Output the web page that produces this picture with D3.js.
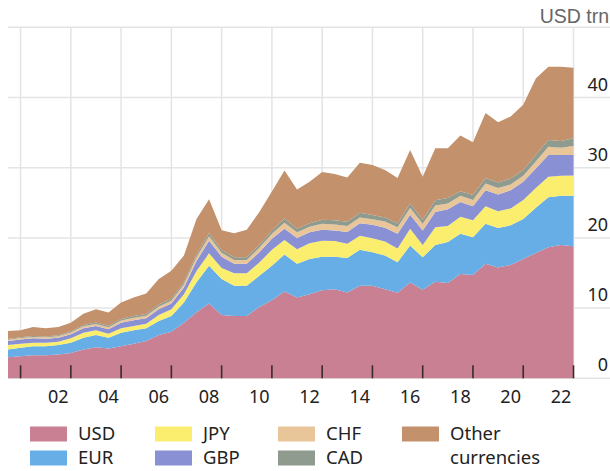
<!DOCTYPE html>
<html><head><meta charset="utf-8">
<script src="https://cdn.jsdelivr.net/npm/d3@7"></script>
<style>body{margin:0;background:#fff}svg{display:block}</style>
</head><body>
<svg id="c" width="610" height="471"></svg>
<script>
const periods = ["2000-06","2000-12","2001-06","2001-12","2002-06","2002-12","2003-06","2003-12","2004-06","2004-12","2005-06","2005-12","2006-06","2006-12","2007-06","2007-12","2008-06","2008-12","2009-06","2009-12","2010-06","2010-12","2011-06","2011-12","2012-06","2012-12","2013-06","2013-12","2014-06","2014-12","2015-06","2015-12","2016-06","2016-12","2017-06","2017-12","2018-06","2018-12","2019-06","2019-12","2020-06","2020-12","2021-06","2021-12","2022-06","2022-12"];
const USD = [3.01,3.15,3.30,3.30,3.40,3.62,4.11,4.44,4.25,4.58,4.91,5.30,6.16,6.63,7.92,9.4,10.65,9.03,8.88,8.88,10.17,11.13,12.37,11.5,11.99,12.56,12.7,12.23,13.18,13.2,12.7,12.2,13.65,12.6,13.75,13.57,14.85,14.7,16.3,15.8,16.14,17.0,17.86,18.67,19.0,18.8];
const EUR = [1.10,1.19,1.28,1.28,1.33,1.44,1.66,1.72,1.52,1.91,1.92,1.82,2.01,2.25,2.87,4.3,5.4,5.11,4.3,4.3,4.43,4.92,5.25,4.8,5.01,4.77,4.63,4.92,5.12,4.76,4.78,4.32,5.26,4.64,5.25,5.83,5.75,5.4,5.7,5.6,5.66,5.7,6.44,7.13,7.0,7.2];
const JPY = [0.62,0.57,0.48,0.48,0.47,0.63,0.72,0.67,0.58,0.63,0.62,0.66,0.86,0.96,1.2,1.6,1.75,1.56,1.77,1.77,1.9,2.25,2.08,2.1,2.25,2.27,2.22,2.0,2.0,2.0,2.02,1.98,2.39,1.76,2.5,2.3,2.4,2.4,2.5,2.4,2.4,2.7,2.8,2.9,2.84,2.9];
const GBP = [0.57,0.63,0.63,0.57,0.57,0.57,0.63,0.62,0.63,0.80,0.82,0.77,0.81,0.80,0.95,1.4,1.8,1.63,1.35,1.35,1.46,1.57,1.6,1.6,1.55,1.56,1.51,1.7,1.8,1.9,1.95,2.1,2.0,2.06,2.2,2.37,2.1,2.0,2.3,2.4,2.6,2.6,2.8,3.1,2.96,2.9];
const CHF = [0.18,0.2,0.2,0.2,0.22,0.25,0.3,0.3,0.3,0.32,0.35,0.35,0.38,0.4,0.45,0.55,0.65,0.55,0.56,0.56,0.62,0.73,0.85,0.8,0.8,0.84,0.85,0.85,0.8,0.8,0.9,0.9,0.95,0.94,0.9,0.83,0.9,0.9,0.95,0.9,0.8,0.84,1.0,1.2,1.05,1.3];
const CAD = [0.12,0.12,0.13,0.13,0.14,0.15,0.18,0.2,0.2,0.22,0.24,0.25,0.28,0.3,0.32,0.35,0.46,0.38,0.37,0.37,0.4,0.46,0.6,0.5,0.5,0.6,0.6,0.6,0.7,0.6,0.55,0.55,0.65,0.6,0.76,0.8,0.65,0.7,0.8,0.8,0.87,0.82,0.9,0.95,0.95,1.1];
const OTHER = [1.13,0.97,1.29,1.16,1.18,1.26,1.61,1.89,1.88,2.33,2.64,2.93,3.64,3.99,3.79,5.1,4.79,2.84,3.44,3.93,4.72,5.54,6.85,5.6,5.9,6.8,6.59,6.3,7.1,7.11,6.76,6.5,7.62,6.1,7.41,7.07,7.92,7.52,9.23,8.59,8.82,9.31,10.89,10.42,10.57,10.03];
const seriesNames = ["USD","EUR","JPY","GBP","CHF","CAD","Other"];
const legendLabels = [["USD"],["EUR"],["JPY"],["GBP"],["CHF"],["CAD"],["Other","currencies"]];
const colors = ["#c98092","#68aee6","#fbee6e","#8a90d4","#e9c59a","#8f9b8e","#c3916b"];
const xTickLabels = ["02","04","06","08","10","12","14","16","18","20","22"];
const yTicks = [0,10,20,30,40];
const unitLabel = "USD trn";

const values = [USD,EUR,JPY,GBP,CHF,CAD,OTHER];
const toYear = p => { const [y,m] = p.split("-").map(Number); return y + m/12; };
const data = periods.map((p,i) => { const o = {t: toYear(p)}; seriesNames.forEach((k,j)=> o[k]=values[j][i]); return o; });

const svg = d3.select("#c");
const x = d3.scaleLinear().domain([2000.5, 2023]).range([8, 573.5]);
const y = d3.scaleLinear().domain([0, 50]).range([378.3, 27.3]);
const font = "'Noto Sans', 'Open Sans', sans-serif";

// grid
const g = svg.append("g");
g.selectAll("line.h").data([0,10,20,30,40,50]).join("line")
  .attr("x1", 8).attr("x2", 610).attr("y1", d=>y(d)).attr("y2", d=>y(d))
  .attr("stroke", "#e4e4e4").attr("stroke-width", 1.5);
const tickYears = d3.range(2001, 2024, 2);
g.selectAll("line.v").data(tickYears).join("line")
  .attr("x1", d=>x(d)).attr("x2", d=>x(d)).attr("y1", y(50)).attr("y2", y(0))
  .attr("stroke", "#e4e4e4").attr("stroke-width", 1.5);

// stacked areas
const stack = d3.stack().keys(seriesNames)(data);
const area = d3.area().x(d=>x(d.data.t)).y0(d=>y(d[0])).y1(d=>y(d[1])).curve(d3.curveLinear);
svg.append("g").selectAll("path").data(stack).join("path")
  .attr("d", area).attr("fill", (d,i)=>colors[i]);

// tick marks
svg.append("g").selectAll("line").data(tickYears).join("line")
  .attr("x1", d=>x(d)).attr("x2", d=>x(d)).attr("y1", y(0)-13).attr("y2", y(0))
  .attr("stroke", "#3b2a2e").attr("stroke-width", 1.6);

// x labels
svg.append("g").selectAll("text").data(xTickLabels).join("text")
  .attr("x", d=>x(2000 + (+d) + 0.5)).attr("y", 403)
  .attr("text-anchor", "middle").attr("font-family", font).attr("font-size", 18)
  .attr("fill", "#222").text(d=>d);

// y labels
svg.append("g").selectAll("text").data(yTicks).join("text")
  .attr("x", 608).attr("y", d=>y(d)-7).attr("text-anchor", "end")
  .attr("font-family", font).attr("font-size", 18).attr("fill", "#222").text(d=>d);

svg.append("text").attr("x", 609).attr("y", 23).attr("text-anchor","end")
  .attr("font-family", "'Liberation Sans', Arial, sans-serif").attr("font-size", 19.5)
  .attr("fill", "#666").text(unitLabel);

// legend
const legX = [30, 155, 278, 402];
const legRows = [434, 458];
const lg = svg.append("g");
legendLabels.forEach((lab, i) => {
  const col = Math.floor(i/2), row = i%2;
  const cx = legX[col], cy = legRows[row];
  lg.append("rect").attr("x", cx).attr("y", cy-7.5).attr("width", 37).attr("height", 15).attr("fill", colors[i]);
  lab.forEach((t, k) => {
    lg.append("text").attr("x", cx+48).attr("y", cy + 6 + k*24)
      .attr("font-family", font).attr("font-size", 18.5).attr("fill", "#222").text(t);
  });
});
</script>
</body></html>
